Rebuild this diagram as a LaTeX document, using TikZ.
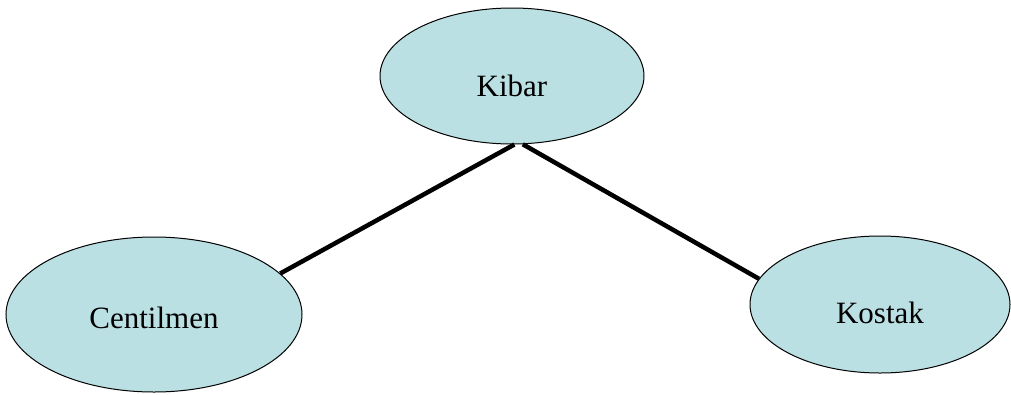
\documentclass[tikz,border=0pt]{standalone}
\usepackage{fontspec}
\setmainfont{Liberation Serif}
\usetikzlibrary{shapes.geometric}
\definecolor{nodefill}{HTML}{BBE0E3}
\tikzset{
  bubble/.style={ellipse, draw=black, line width=1pt, fill=nodefill, inner sep=0pt},
  lab/.style={font=\fontsize{31}{36}\selectfont, inner sep=0pt},
  link/.style={line width=4.5pt, draw=black}
}
\begin{document}
\begin{tikzpicture}[x=1pt,y=-1pt]
\useasboundingbox (0,0) rectangle (1011,394);
\node[bubble, minimum width=264pt, minimum height=136pt,
  label={[lab, yshift=-9.5pt]center:Kibar}] (kibar) at (512,76) {};
\node[bubble, minimum width=296pt, minimum height=155pt,
  label={[lab, yshift=-3pt]center:Centilmen}] (cent) at (154,314.5) {};
\node[bubble, minimum width=260pt, minimum height=137pt,
  label={[lab, yshift=-8.5pt]center:Kostak}] (kostak) at (880,304.5) {};
\draw[link] (kibar.272) -- (cent.18);
\draw[link] (kibar.279) -- (kostak.168);
\end{tikzpicture}
\end{document}
